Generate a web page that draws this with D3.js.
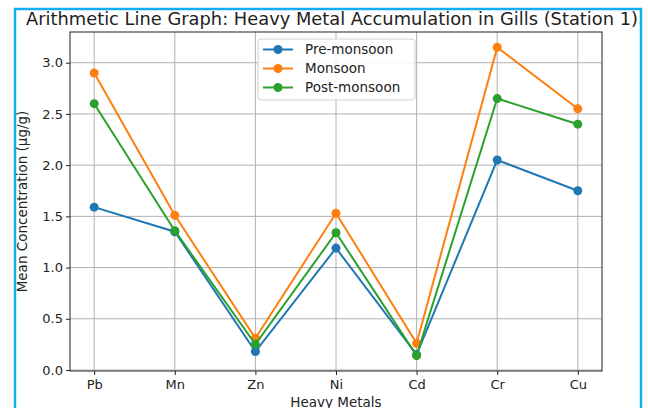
<!DOCTYPE html>
<html>
<head>
<meta charset="utf-8">
<script src="https://cdn.jsdelivr.net/npm/d3@7"></script>
<style>
  html, body { margin: 0; padding: 0; background: #fff; }
  svg { display: block; font-family: "DejaVu Sans", sans-serif; }
</style>
</head>
<body>
<div id="chart"></div>
<script>
// Data
const metals = ['Pb', 'Mn', 'Zn', 'Ni', 'Cd', 'Cr', 'Cu'];
const preMonsoon = [1.59, 1.35, 0.18, 1.19, 0.15, 2.05, 1.75];
const monsoon = [2.90, 1.51, 0.31, 1.53, 0.26, 3.15, 2.55];
const postMonsoon = [2.60, 1.36, 0.25, 1.34, 0.14, 2.65, 2.40];
const seriesNames = ['Pre-monsoon', 'Monsoon', 'Post-monsoon'];
const yTicks = [0.0, 0.5, 1.0, 1.5, 2.0, 2.5, 3.0];

const W = 648, H = 408;
const margin = { top: 32, right: 46, bottom: 37, left: 70 };
const width = W - margin.left - margin.right;
const height = H - margin.top - margin.bottom;
const colors = ['#1f77b4', '#ff7f0e', '#2ca02c'];
const seriesValues = [preMonsoon, monsoon, postMonsoon];

const svg = d3.select('#chart').append('svg')
  .attr('width', W).attr('height', H);

// frame around the figure
svg.append('rect')
  .attr('x', 15).attr('y', 9).attr('width', 626).attr('height', 420)
  .attr('fill', 'none').attr('stroke', '#12aef0').attr('stroke-width', 2.5);

const g = svg.append('g').attr('transform', `translate(${margin.left},${margin.top})`);

const x = d3.scaleLinear().domain([-0.3, metals.length - 1 + 0.3]).range([0, width]);
const y = d3.scaleLinear().domain([-0.01, 3.30]).range([height, 0]);

// grid
g.append('g').selectAll('line').data(metals).join('line')
  .attr('x1', (d, i) => x(i)).attr('x2', (d, i) => x(i))
  .attr('y1', 0).attr('y2', height)
  .attr('stroke', '#b0b0b0').attr('stroke-width', 1);
g.append('g').selectAll('line').data(yTicks).join('line')
  .attr('x1', 0).attr('x2', width)
  .attr('y1', d => y(d)).attr('y2', d => y(d))
  .attr('stroke', '#b0b0b0').attr('stroke-width', 1);

// axes
const xAxis = g.append('g')
  .attr('transform', `translate(0,${height})`)
  .call(d3.axisBottom(x).tickValues(d3.range(metals.length)).tickFormat(i => metals[i]).tickSize(4).tickPadding(5));
const yAxis = g.append('g')
  .call(d3.axisLeft(y).tickValues(yTicks).tickFormat(d3.format('.1f')).tickSize(4).tickPadding(3));
[xAxis, yAxis].forEach(a => {
  a.select('.domain').remove();
  a.selectAll('.tick line').attr('stroke', '#222');
  a.selectAll('text').attr('fill', '#222').attr('font-size', '13px')
    .attr('font-family', '"DejaVu Sans", sans-serif');
});

// spines
g.append('rect').attr('width', width).attr('height', height)
  .attr('fill', 'none').attr('stroke', '#222').attr('stroke-width', 1);

// lines and markers
seriesValues.forEach((vals, s) => {
  const line = d3.line().x((d, i) => x(i)).y(d => y(d));
  g.append('path').datum(vals)
    .attr('fill', 'none').attr('stroke', colors[s]).attr('stroke-width', 2)
    .attr('d', line);
  g.append('g').selectAll('circle').data(vals).join('circle')
    .attr('cx', (d, i) => x(i)).attr('cy', d => y(d)).attr('r', 4.5)
    .attr('fill', colors[s]);
});

// legend
const lg = svg.append('g').attr('transform', 'translate(258,39)');
lg.append('rect').attr('width', 157).attr('height', 61).attr('rx', 3)
  .attr('fill', 'rgba(255,255,255,0.85)').attr('stroke', '#d0d0d0');
seriesNames.forEach((name, i) => {
  const yy = 10.5 + i * 19;
  lg.append('line').attr('x1', 5).attr('x2', 35).attr('y1', yy).attr('y2', yy)
    .attr('stroke', colors[i]).attr('stroke-width', 2);
  lg.append('circle').attr('cx', 20).attr('cy', yy).attr('r', 4.5).attr('fill', colors[i]);
  lg.append('text').attr('x', 47).attr('y', yy).attr('dy', '0.35em')
    .attr('font-size', '13.5px').attr('fill', '#222').text(name);
});

// title and axis labels
svg.append('text')
  .attr('x', 332).attr('y', 25)
  .attr('text-anchor', 'middle').attr('font-size', '17px').attr('fill', '#222')
  .attr('textLength', 612).attr('lengthAdjust', 'spacingAndGlyphs')
  .text('Arithmetic Line Graph: Heavy Metal Accumulation in Gills (Station 1)');
svg.append('text')
  .attr('x', margin.left + width / 2).attr('y', 407)
  .attr('text-anchor', 'middle').attr('font-size', '13.5px').attr('fill', '#222')
  .text('Heavy Metals');
svg.append('text')
  .attr('transform', `translate(27,${margin.top + height / 2}) rotate(-90)`)
  .attr('text-anchor', 'middle').attr('font-size', '13.5px').attr('fill', '#222')
  .text('Mean Concentration (μg/g)');
</script>
</body>
</html>
